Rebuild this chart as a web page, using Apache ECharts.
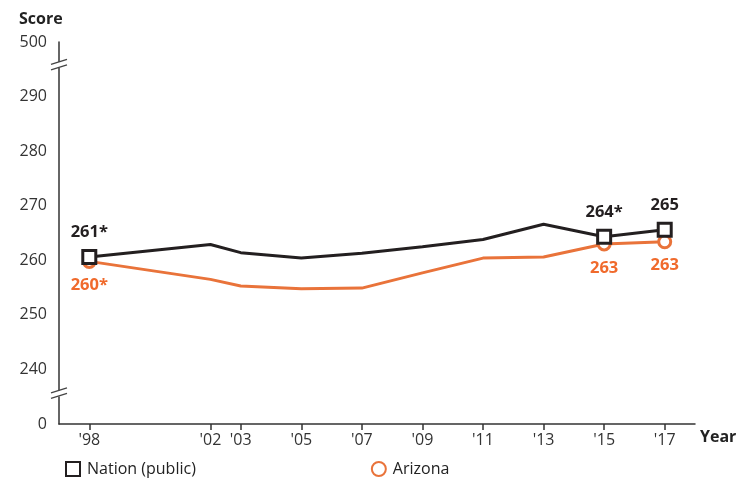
<!DOCTYPE html>
<html><head><meta charset="utf-8">
<script src="https://cdn.jsdelivr.net/npm/echarts@6/dist/echarts.min.js"></script>
<style>html,body{margin:0;padding:0;background:#fff}#c{width:741px;height:480px}</style>
</head><body><div id="c"></div>
<script>
const years = [1998, 2002, 2003, 2005, 2007, 2009, 2011, 2013, 2015, 2017];
const nation = [260.6, 262.9, 261.4, 260.4, 261.3, 262.5, 263.8, 266.6, 264.3, 265.6];
const arizona = [259.8, 256.5, 255.3, 254.8, 254.9, 257.7, 260.4, 260.6, 263.0, 263.4];
const nationLabels = {1998: '261*', 2015: '264*', 2017: '265'};
const arizonaLabels = {1998: '260*', 2015: '263', 2017: '263'};
const yTicks = [230, 240, 250, 260, 270, 280, 290, 300];
const yTickText = {230: '0', 300: '500'};
const FONT = '"Open Sans", "Noto Sans", sans-serif';
const DARK = '#231f20', ORANGE = '#e9733a', ORANGE_TXT = '#f06a2c';

function build(vals, labels, color, txtColor, pos, symbol) {
  return years.map((y, i) => {
    const l = labels[y];
    if (!l) return {value: [y, vals[i]], symbol: 'none'};
    return {value: [y, vals[i]], symbol: symbol,
      label: {show: true, formatter: l, position: pos, distance: 8,
        color: txtColor, fontWeight: 'bold', fontSize: 16.5, fontFamily: FONT}};
  });
}

const chart = echarts.init(document.getElementById('c'));
chart.setOption({
  animation: false,
  textStyle: {fontFamily: FONT},
  grid: {left: 59, right: 46, top: 42, bottom: 56},
  title: {text: 'Score', left: 14, top: 6,
    textStyle: {fontSize: 16, fontWeight: 'bold', color: '#222', fontFamily: FONT}},
  legend: {left: 60, bottom: -2, itemGap: 175, itemWidth: 14, itemHeight: 14,
    textStyle: {fontSize: 16, color: '#222', fontFamily: FONT, padding: [0, 0, 0, 2]},
    data: [{name: 'Nation (public)', icon: 'rect'}, {name: 'Arizona', icon: 'circle'}]},
  xAxis: {type: 'value', min: 1997, max: 2018,
    splitLine: {show: false},
    axisLine: {lineStyle: {color: '#333', width: 1.5}},
    axisTick: {show: true, customValues: years, length: 6, inside: false, lineStyle: {color: '#333', width: 1.5}},
    axisLabel: {customValues: years, formatter: v => "'" + String(v).slice(2),
      color: '#333', fontSize: 16, margin: 8, fontFamily: FONT}},
  yAxis: {type: 'value', min: 230, max: 300, interval: 10,
    splitLine: {show: false},
    axisLine: {show: true, lineStyle: {color: '#333', width: 1.5}},
    axisTick: {show: false},
    axisLabel: {customValues: yTicks, formatter: v => yTickText[v] !== undefined ? yTickText[v] : String(v),
      color: '#333', fontSize: 16, margin: 12, fontFamily: FONT}},
  series: [
    {name: 'Arizona', type: 'line', z: 2,
      data: build(arizona, arizonaLabels, ORANGE, ORANGE_TXT, 'bottom', 'circle'),
      symbolSize: 12, lineStyle: {color: ORANGE, width: 3},
      itemStyle: {color: '#fff', borderColor: ORANGE, borderWidth: 3}},
    {name: 'Nation (public)', type: 'line', z: 3,
      data: build(nation, nationLabels, DARK, DARK, 'top', 'rect'),
      symbolSize: 13, lineStyle: {color: DARK, width: 3},
      itemStyle: {color: '#fff', borderColor: DARK, borderWidth: 3}}
  ]
});

function brk(yv) {
  const p = chart.convertToPixel({gridIndex: 0}, [1997, yv]);
  const x = p[0], y = p[1];
  return [
    {type: 'rect', shape: {x: x - 4, y: y - 3, width: 8, height: 6}, style: {fill: '#fff'}, z: 100},
    {type: 'line', shape: {x1: x - 8, y1: y - 0.5, x2: x + 8, y2: y - 5.5}, style: {stroke: '#444', lineWidth: 1.3}, z: 101},
    {type: 'line', shape: {x1: x - 8, y1: y + 5, x2: x + 8, y2: y}, style: {stroke: '#444', lineWidth: 1.3}, z: 101}
  ];
}
const g = [].concat(brk(295.8), brk(235.6));
g.push({type: 'text', left: 700, top: 429, z: 100,
  style: {text: 'Year', font: 'bold 16px ' + FONT, fill: '#222'}});
chart.setOption({graphic: g});
</script></body></html>
